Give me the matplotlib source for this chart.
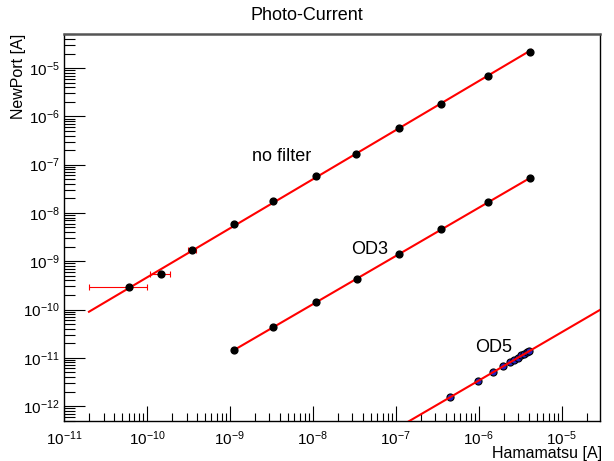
import numpy as np
import matplotlib.pyplot as plt
from matplotlib.ticker import LogLocator, NullFormatter

plt.rcParams['font.family'] = ['Liberation Sans', 'DejaVu Sans']

# Hamamatsu current [A] vs NewPort current [A]
x_nofilter = [6.0e-11, 1.48e-10, 3.5e-10, 1.12e-9, 3.3e-9, 1.09e-8, 3.3e-8,
              1.09e-7, 3.5e-7, 1.28e-6, 4.2e-6]
y_nofilter = [2.9e-10, 5.4e-10, 1.7e-9, 5.8e-9, 1.75e-8, 5.8e-8, 1.7e-7,
              5.7e-7, 1.85e-6, 6.8e-6, 2.2e-5]
xerr_nofilter = [4e-11] * len(x_nofilter)

x_od3 = [1.12e-9, 3.3e-9, 1.09e-8, 3.4e-8, 1.1e-7, 3.5e-7, 1.28e-6, 4.2e-6]
y_od3 = [1.44e-11, 4.3e-11, 1.42e-10, 4.2e-10, 1.4e-9, 4.6e-9, 1.66e-8, 5.3e-8]

x_od5 = [4.5e-7, 9.8e-7, 1.5e-6, 1.96e-6, 2.41e-6, 2.69e-6, 2.97e-6, 3.27e-6,
         3.51e-6, 3.78e-6, 4.08e-6]
y_od5 = [1.53e-12, 3.3e-12, 5.0e-12, 6.6e-12, 8.0e-12, 8.9e-12, 1.01e-11,
         1.12e-11, 1.2e-11, 1.29e-11, 1.37e-11]

# fit ranges
range_nofilter = (2e-11, 4.3e-6)
range_od3 = (1.12e-9, 4.3e-6)
range_od5 = (1e-7, 1e-4)


def powerlaw_fit(x, y, xr):
    p = np.polyfit(np.log10(x), np.log10(y), 1)
    xs = np.logspace(np.log10(xr[0]), np.log10(xr[1]), 200)
    return xs, 10 ** np.polyval(p, np.log10(xs))


fig = plt.figure(figsize=(6.14, 4.61), dpi=100)
ax = fig.add_axes([64 / 614, 40 / 461, 536 / 614, 387 / 461])

# no filter
ax.errorbar(x_nofilter, y_nofilter, xerr=xerr_nofilter, fmt='none',
            ecolor='red', elinewidth=0.8, capsize=2, capthick=0.8, zorder=2)
xs, ys = powerlaw_fit(x_nofilter, y_nofilter, range_nofilter)
ax.plot(xs, ys, color='red', lw=1.5, zorder=3)
ax.scatter(x_nofilter, y_nofilter, s=24, color='black', zorder=4)

# OD3
xs, ys = powerlaw_fit(x_od3, y_od3, range_od3)
ax.plot(xs, ys, color='red', lw=1.5, zorder=3)
ax.scatter(x_od3, y_od3, s=24, color='black', zorder=4)

# OD5 (line on top of markers)
ax.scatter(x_od5, y_od5, s=26, color='#2020c0', edgecolor='black',
           linewidth=0.8, zorder=3)
xs, ys = powerlaw_fit(x_od5, y_od5, range_od5)
ax.plot(xs, ys, color='red', lw=1.5, zorder=4)

ax.set_xscale('log')
ax.set_yscale('log')
ax.set_xlim(1e-11, 2.9e-5)
ax.set_ylim(4.9e-13, 5.1e-5)

ax.xaxis.set_major_locator(LogLocator(base=10, numticks=20))
ax.yaxis.set_major_locator(LogLocator(base=10, numticks=20))
ax.xaxis.set_minor_locator(LogLocator(base=10, subs=np.arange(2, 10), numticks=20))
ax.yaxis.set_minor_locator(LogLocator(base=10, subs=np.arange(2, 10), numticks=20))
ax.xaxis.set_minor_formatter(NullFormatter())
ax.yaxis.set_minor_formatter(NullFormatter())

ax.tick_params(axis='both', which='both', direction='in', top=False, right=False,
               labelsize=11, width=0.8)
ax.tick_params(axis='x', which='major', length=11, pad=6)
ax.tick_params(axis='x', which='minor', length=6)
ax.tick_params(axis='y', which='major', length=15, pad=3)
ax.tick_params(axis='y', which='minor', length=8)
for sp in ax.spines.values():
    sp.set_linewidth(1.0)
ax.spines['top'].set_color('#555555')
ax.spines['top'].set_linewidth(1.8)

ax.text(4.2e-9, 1.19e-7, 'no filter', fontsize=13, ha='center', va='baseline')
ax.text(4.86e-8, 1.4e-9, 'OD3', fontsize=13, ha='center', va='baseline')
ax.text(1.5e-6, 1.32e-11, 'OD5', fontsize=13, ha='center', va='baseline')

fig.text(0.5, 1 - 15 / 461, 'Photo-Current', fontsize=13, ha='center', va='center')
fig.text(602 / 614, 1 - 453 / 461, 'Hamamatsu [A]', fontsize=11.5, ha='right',
         va='center')
fig.text(19 / 614, 1 - 34 / 461, 'NewPort [A]', fontsize=11.5, ha='center',
         va='top', rotation=90)

fig.savefig('out.png', dpi=100)
